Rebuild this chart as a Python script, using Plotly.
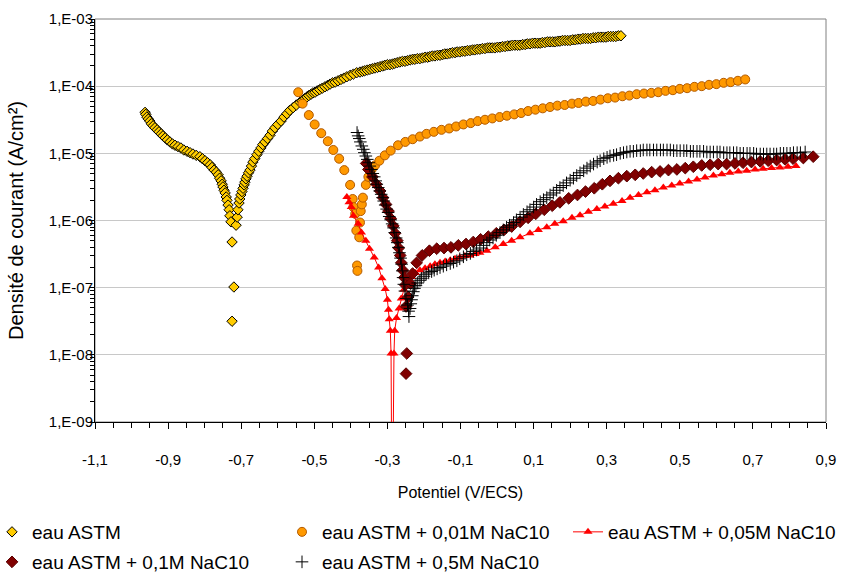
import numpy as np
import plotly.graph_objects as go

# ---------------- data ----------------
# Potential (V/ECS) and log10 of current density (A/cm²)
astm_v = [-0.963, -0.961, -0.958, -0.954, -0.950, -0.946, -0.941, -0.936, -0.930, -0.925,
          -0.919, -0.914, -0.908, -0.902, -0.895, -0.888, -0.881, -0.873, -0.865, -0.857,
          -0.848, -0.840, -0.832, -0.823, -0.813, -0.806, -0.799, -0.792, -0.785, -0.780,
          -0.774, -0.768, -0.763, -0.759, -0.755, -0.752, -0.750, -0.747, -0.744, -0.741,
          -0.739, -0.736, -0.733, -0.731, -0.728, -0.725, -0.720, -0.725,
          -0.714, -0.711, -0.709, -0.706, -0.704, -0.701, -0.698, -0.695, -0.692, -0.690,
          -0.687, -0.684, -0.680, -0.676, -0.672, -0.668, -0.663, -0.657, -0.652, -0.646,
          -0.641, -0.635, -0.628, -0.621, -0.615, -0.608, -0.600, -0.591, -0.583, -0.575,
          -0.567, -0.558, -0.549, -0.539, -0.534, -0.529, -0.525, -0.520, -0.515, -0.509,
          -0.504, -0.498, -0.492, -0.485, -0.478, -0.471, -0.464, -0.457, -0.450, -0.443,
          -0.435, -0.427, -0.419, -0.411, -0.402, -0.393, -0.384, -0.375, -0.368, -0.362,
          -0.355, -0.348, -0.341, -0.334, -0.327, -0.320, -0.313, -0.307, -0.300, -0.293,
          -0.286, -0.280, -0.273, -0.266, -0.259, -0.252, -0.245, -0.238, -0.231, -0.225,
          -0.218, -0.211, -0.204, -0.197, -0.190, -0.184, -0.177, -0.170, -0.163, -0.156,
          -0.149, -0.143, -0.136, -0.129, -0.122, -0.115, -0.109, -0.102, -0.095, -0.088,
          -0.081, -0.074, -0.067, -0.061, -0.054, -0.047, -0.040, -0.033, -0.026, -0.020,
          -0.013, -0.006, 0.001, 0.008, 0.015, 0.022, 0.029, 0.036, 0.042, 0.049,
          0.056, 0.063, 0.070, 0.077, 0.083, 0.090, 0.097, 0.104, 0.111, 0.118,
          0.124, 0.131, 0.138, 0.145, 0.152, 0.159, 0.166, 0.172, 0.179, 0.186,
          0.193, 0.200, 0.207, 0.214, 0.221, 0.228, 0.235, 0.242, 0.249, 0.256,
          0.263, 0.270, 0.277, 0.284, 0.291, 0.298, 0.304, 0.311, 0.318, 0.325,
          0.332, 0.339]
astm_logj = [-4.39, -4.42, -4.46, -4.49, -4.52, -4.56, -4.59, -4.62, -4.65, -4.68,
             -4.71, -4.74, -4.77, -4.80, -4.83, -4.86, -4.88, -4.90, -4.92, -4.95,
             -4.97, -4.99, -5.01, -5.03, -5.05, -5.08, -5.11, -5.14, -5.17, -5.21,
             -5.25, -5.28, -5.32, -5.37, -5.41, -5.46, -5.50, -5.55, -5.59, -5.65,
             -5.70, -5.77, -5.84, -5.93, -6.02, -6.32, -6.99, -7.50,
             -6.07, -5.95, -5.84, -5.74, -5.68, -5.62, -5.57, -5.52, -5.47, -5.43,
             -5.38, -5.34, -5.29, -5.25, -5.19, -5.13, -5.08, -5.02, -4.97, -4.92,
             -4.87, -4.83, -4.78, -4.73, -4.67, -4.62, -4.57, -4.52, -4.46, -4.41,
             -4.36, -4.32, -4.28, -4.24, -4.22, -4.20, -4.18, -4.16, -4.14, -4.12,
             -4.10, -4.09, -4.07, -4.05, -4.03, -4.01, -3.99, -3.97, -3.95, -3.94,
             -3.92, -3.90, -3.88, -3.86, -3.84, -3.82, -3.80, -3.79, -3.78, -3.77,
             -3.76, -3.75, -3.74, -3.73, -3.72, -3.71, -3.70, -3.69, -3.68, -3.68,
             -3.67, -3.66, -3.65, -3.64, -3.63, -3.63, -3.62, -3.61, -3.60, -3.60,
             -3.59, -3.59, -3.58, -3.57, -3.57, -3.56, -3.55, -3.55, -3.54, -3.54,
             -3.53, -3.52, -3.52, -3.51, -3.50, -3.50, -3.49, -3.49, -3.48, -3.48,
             -3.47, -3.47, -3.46, -3.46, -3.45, -3.45, -3.44, -3.44, -3.43, -3.43,
             -3.43, -3.43, -3.42, -3.42, -3.41, -3.41, -3.40, -3.40, -3.39, -3.39,
             -3.39, -3.39, -3.38, -3.38, -3.37, -3.37, -3.36, -3.36, -3.36, -3.36,
             -3.35, -3.35, -3.34, -3.34, -3.34, -3.34, -3.33, -3.33, -3.32, -3.32,
             -3.32, -3.32, -3.31, -3.31, -3.30, -3.30, -3.29, -3.29, -3.29, -3.29,
             -3.28, -3.28, -3.27, -3.27, -3.27, -3.27, -3.26, -3.26, -3.26, -3.26,
             -3.25, -3.25]

m001_v = [-0.544, -0.532, -0.515, -0.499, -0.481, -0.463, -0.448, -0.432, -0.418, -0.402,
          -0.395, -0.393, -0.388, -0.385, -0.383, -0.382, -0.377, -0.375, -0.373, -0.370,
          -0.367, -0.359, -0.352, -0.343, -0.334, -0.322, -0.307, -0.291, -0.271, -0.251,
          -0.231, -0.211, -0.193, -0.173, -0.152, -0.131, -0.112, -0.092, -0.072, -0.053,
          -0.033, -0.013, 0.007, 0.027, 0.047, 0.066, 0.085, 0.105, 0.125, 0.145,
          0.165, 0.185, 0.205, 0.223, 0.243, 0.263, 0.283, 0.303, 0.323, 0.343,
          0.362, 0.382, 0.402, 0.422, 0.441, 0.461, 0.481, 0.500, 0.520, 0.540,
          0.560, 0.580, 0.600, 0.620, 0.639, 0.659, 0.679]
m001_logj = [-4.09, -4.26, -4.43, -4.57, -4.70, -4.82, -4.95, -5.08, -5.25, -5.47,
             -5.68, -5.80, -5.90, -6.15, -6.67, -6.75, -6.25, -6.03, -5.86, -5.76,
             -5.66, -5.47, -5.35, -5.24, -5.18, -5.11, -5.03, -4.96, -4.88, -4.83,
             -4.79, -4.75, -4.71, -4.68, -4.65, -4.63, -4.60, -4.57, -4.55, -4.52,
             -4.50, -4.48, -4.46, -4.44, -4.42, -4.40, -4.37, -4.35, -4.33, -4.31,
             -4.29, -4.28, -4.26, -4.25, -4.23, -4.22, -4.20, -4.18, -4.17, -4.15,
             -4.14, -4.12, -4.11, -4.10, -4.09, -4.07, -4.06, -4.04, -4.03, -4.01,
             -4.00, -3.98, -3.97, -3.95, -3.94, -3.92, -3.90]

m005_v = [-0.411, -0.405, -0.399, -0.393, -0.380, -0.371, -0.359, -0.349, -0.336, -0.324,
          -0.315, -0.306, -0.300, -0.297, -0.295, -0.292, -0.290, -0.287, -0.282, -0.280,
          -0.275, -0.268, -0.262, -0.255, -0.244, -0.234, -0.223, -0.211, -0.197, -0.183,
          -0.170, -0.156, -0.142, -0.128, -0.115, -0.102, -0.088, -0.074, -0.060, -0.047,
          -0.028, -0.005, 0.017, 0.040, 0.063, 0.090, 0.113, 0.136, 0.158, 0.181,
          0.205, 0.227, 0.250, 0.273, 0.295, 0.318, 0.342, 0.364, 0.387, 0.410,
          0.432, 0.455, 0.478, 0.500, 0.524, 0.547, 0.569, 0.592, 0.615, 0.637,
          0.660, 0.683, 0.706, 0.728, 0.751, 0.774, 0.796, 0.818]
m005_logj = [-5.65, -5.73, -5.80, -5.93, -6.05, -6.18, -6.30, -6.42, -6.55, -6.70,
             -6.86, -7.02, -7.18, -7.33, -7.47, -7.64, -7.98, -11.0, -7.98, -7.64,
             -7.45, -7.31, -7.16, -7.03, -6.93, -6.84, -6.78, -6.74, -6.71, -6.68,
             -6.65, -6.63, -6.61, -6.59, -6.57, -6.55, -6.53, -6.52, -6.50, -6.48,
             -6.45, -6.40, -6.35, -6.30, -6.25, -6.19, -6.14, -6.10, -6.05, -6.01,
             -5.96, -5.92, -5.87, -5.83, -5.79, -5.75, -5.71, -5.66, -5.62, -5.58,
             -5.55, -5.51, -5.48, -5.45, -5.42, -5.39, -5.36, -5.33, -5.31, -5.29,
             -5.27, -5.26, -5.24, -5.23, -5.22, -5.21, -5.20, -5.19]

m01_v = [-0.358, -0.352, -0.341, -0.330, -0.320, -0.312, -0.304, -0.297, -0.291, -0.284,
         -0.279, -0.273, -0.269, -0.265, -0.262, -0.258, -0.254, -0.251, -0.249, -0.247,
         -0.249, -0.243, -0.237, -0.231, -0.220, -0.205, -0.185, -0.165, -0.145, -0.126,
         -0.106, -0.085, -0.065, -0.045, -0.024, -0.002, 0.019, 0.040, 0.063, 0.085,
         0.106, 0.129, 0.151, 0.172, 0.196, 0.220, 0.242, 0.266, 0.288, 0.309,
         0.332, 0.355, 0.378, 0.400, 0.423, 0.446, 0.469, 0.492, 0.515, 0.537,
         0.560, 0.583, 0.605, 0.628, 0.651, 0.673, 0.696, 0.720, 0.742, 0.765,
         0.788, 0.810, 0.838, 0.865]
m01_logj = [-5.15, -5.24, -5.35, -5.46, -5.56, -5.66, -5.76, -5.86, -5.97, -6.08,
            -6.19, -6.30, -6.41, -6.52, -6.63, -6.74, -6.85, -6.96, -7.28, -7.98,
            -8.28, -7.14, -6.94, -6.79, -6.63, -6.52, -6.45, -6.42, -6.41, -6.40,
            -6.37, -6.35, -6.32, -6.28, -6.24, -6.19, -6.14, -6.09, -6.02, -5.96,
            -5.90, -5.84, -5.78, -5.73, -5.67, -5.62, -5.57, -5.52, -5.46, -5.41,
            -5.37, -5.34, -5.32, -5.30, -5.28, -5.27, -5.25, -5.24, -5.22, -5.20,
            -5.18, -5.17, -5.16, -5.16, -5.15, -5.14, -5.13, -5.12, -5.11, -5.10,
            -5.09, -5.08, -5.07, -5.05]

m05_v = [-0.383, -0.380, -0.377, -0.374, -0.370, -0.366, -0.363, -0.359, -0.355, -0.351,
         -0.348, -0.344, -0.340, -0.336, -0.332, -0.329, -0.325, -0.321, -0.317, -0.313,
         -0.310, -0.306, -0.302, -0.298, -0.295, -0.291, -0.287, -0.283, -0.280, -0.276,
         -0.273, -0.270, -0.267, -0.264, -0.261, -0.259, -0.257, -0.255, -0.252, -0.249,
         -0.245, -0.242, -0.241, -0.238, -0.236, -0.234, -0.232, -0.229, -0.226, -0.222,
         -0.217, -0.211, -0.207, -0.200, -0.194, -0.187, -0.179, -0.172, -0.164, -0.156,
         -0.147, -0.138, -0.128, -0.119, -0.110, -0.102, -0.092, -0.083, -0.073, -0.065,
         -0.056, -0.047, -0.037, -0.028, -0.020, -0.011, -0.002, 0.008, 0.017, 0.026,
         0.034, 0.045, 0.053, 0.063, 0.072, 0.082, 0.090, 0.100, 0.108, 0.118,
         0.127, 0.136, 0.145, 0.154, 0.163, 0.172, 0.181, 0.190, 0.200, 0.209,
         0.218, 0.227, 0.237, 0.246, 0.255, 0.264, 0.274, 0.282, 0.292, 0.301,
         0.309, 0.319, 0.327, 0.337, 0.346, 0.355, 0.364, 0.373, 0.382, 0.392,
         0.400, 0.410, 0.418, 0.428, 0.437, 0.447, 0.455, 0.465, 0.474, 0.483,
         0.492, 0.501, 0.511, 0.519, 0.529, 0.537, 0.547, 0.555, 0.565, 0.574,
         0.583, 0.592, 0.602, 0.610, 0.620, 0.629, 0.637, 0.647, 0.656, 0.665,
         0.674, 0.684, 0.692, 0.702, 0.710, 0.720, 0.729, 0.738, 0.747, 0.757,
         0.765, 0.775, 0.784, 0.793, 0.802, 0.811, 0.821, 0.830, 0.843]
m05_logj = [-4.69, -4.74, -4.78, -4.83, -4.89, -4.94, -4.99, -5.04, -5.09, -5.14,
            -5.19, -5.24, -5.30, -5.35, -5.41, -5.46, -5.51, -5.56, -5.61, -5.66,
            -5.71, -5.77, -5.83, -5.88, -5.94, -5.99, -6.05, -6.11, -6.18, -6.26,
            -6.33, -6.40, -6.48, -6.56, -6.65, -6.75, -6.85, -6.95, -7.05, -7.16,
            -7.26, -7.35, -7.43, -7.31, -7.24, -7.18, -7.12, -7.06, -7.01, -6.97,
            -6.93, -6.89, -6.86, -6.83, -6.80, -6.78, -6.76, -6.74, -6.72, -6.70,
            -6.68, -6.66, -6.64, -6.62, -6.60, -6.57, -6.54, -6.51, -6.49, -6.46,
            -6.44, -6.41, -6.37, -6.33, -6.29, -6.26, -6.22, -6.18, -6.14, -6.10,
            -6.07, -6.03, -5.99, -5.95, -5.91, -5.87, -5.84, -5.80, -5.76, -5.72,
            -5.69, -5.66, -5.62, -5.59, -5.55, -5.51, -5.48, -5.44, -5.40, -5.37,
            -5.33, -5.29, -5.26, -5.22, -5.19, -5.16, -5.13, -5.11, -5.08, -5.06,
            -5.04, -5.03, -5.02, -5.00, -4.99, -4.98, -4.97, -4.97, -4.96, -4.96,
            -4.95, -4.95, -4.95, -4.95, -4.95, -4.95, -4.95, -4.95, -4.95, -4.96,
            -4.96, -4.96, -4.96, -4.96, -4.97, -4.97, -4.97, -4.97, -4.97, -4.98,
            -4.98, -4.98, -4.98, -4.98, -4.99, -4.99, -4.99, -4.99, -4.99, -5.00,
            -5.00, -5.00, -5.00, -5.00, -5.01, -5.01, -5.01, -5.01, -5.01, -5.01,
            -5.01, -5.00, -5.00, -5.00, -5.00, -4.99, -4.99, -4.99, -4.98]

series_names = ["eau ASTM", "eau ASTM + 0,01M NaC10", "eau ASTM + 0,05M NaC10",
                "eau ASTM + 0,1M NaC10", "eau ASTM + 0,5M NaC10"]

x_tickvals = [-1.1, -0.9, -0.7, -0.5, -0.3, -0.1, 0.1, 0.3, 0.5, 0.7, 0.9]
x_ticktext = ["-1,1", "-0,9", "-0,7", "-0,5", "-0,3", "-0,1", "0,1", "0,3", "0,5", "0,7", "0,9"]
y_tickvals = [1e-9, 1e-8, 1e-7, 1e-6, 1e-5, 1e-4, 1e-3]
y_ticktext = ["1,E-09", "1,E-08", "1,E-07", "1,E-06", "1,E-05", "1,E-04", "1,E-03"]

# ---------------- figure ----------------
FONT = "Liberation Sans, Arial, sans-serif"
W, H = 844, 576
L, R, T, B = 95, 18, 19, 154
PW = W - L - R


def j(logs):
    return np.power(10.0, np.array(logs))


def paper_x(px):
    return (px - L) / PW


fig = go.Figure()
fig.add_trace(go.Scatter(
    x=astm_v, y=j(astm_logj), mode="markers", name=series_names[0], legend="legend",
    marker=dict(symbol="diamond", size=8, color="#FFCC00", line=dict(color="#000000", width=1))))
fig.add_trace(go.Scatter(
    x=m001_v, y=j(m001_logj), mode="markers", name=series_names[1], legend="legend2",
    marker=dict(symbol="circle", size=9, color="#FF9900", line=dict(color="#B35A00", width=1))))
fig.add_trace(go.Scatter(
    x=m005_v, y=j(m005_logj), mode="lines+markers", name=series_names[2], legend="legend3",
    line=dict(color="#FF0000", width=1),
    marker=dict(symbol="triangle-up", size=8, color="#FF0000", line=dict(color="#FF0000", width=0))))
fig.add_trace(go.Scatter(
    x=m01_v, y=j(m01_logj), mode="markers", name=series_names[3], legend="legend4",
    marker=dict(symbol="diamond", size=9, color="#800000", line=dict(color="#5A0000", width=1))))
fig.add_trace(go.Scatter(
    x=m05_v, y=j(m05_logj), mode="markers", name=series_names[4], legend="legend5",
    marker=dict(symbol="cross-thin", size=9, color="#000000", line=dict(color="#000000", width=1))))

minor_y = [k * 10.0 ** e for e in range(-9, -3) for k in range(2, 10)]
minor_x = [round(-1.1 + 0.05 * i, 3) for i in range(41)]

legend_font = dict(family=FONT, size=19, color="#000000")


def legend_at(px, py):
    return dict(xref="paper", yref="container", x=paper_x(px), y=1 - py / H,
                xanchor="left", yanchor="middle", orientation="h",
                font=legend_font, bgcolor="rgba(0,0,0,0)", borderwidth=0,
                itemsizing="trace")


fig.update_layout(
    width=W, height=H,
    margin=dict(l=L, r=R, t=T, b=B, autoexpand=False),
    paper_bgcolor="white", plot_bgcolor="white",
    font=dict(family=FONT, size=15, color="#000000"),
    showlegend=True,
    legend=legend_at(-8, 532),
    legend2=legend_at(282, 532),
    legend3=legend_at(568, 532),
    legend4=legend_at(-8, 562),
    legend5=legend_at(282, 562),
    shapes=[dict(type="rect", xref="paper", yref="paper", x0=0, x1=1, y0=0, y1=1,
                 line=dict(color="#808080", width=1), layer="below")],
)
fig.update_xaxes(
    range=[-1.1, 0.9], tickmode="array", tickvals=x_tickvals, ticktext=x_ticktext,
    showgrid=False, zeroline=False, showline=True, linecolor="#000000", linewidth=1,
    ticks="outside", ticklen=6, tickcolor="#000000", tickwidth=1,
    ticklabelstandoff=18,
    minor=dict(tickmode="array", tickvals=minor_x, ticks="outside", ticklen=5,
               tickcolor="#000000", tickwidth=1, showgrid=False),
    tickfont=dict(size=15),
    title=dict(text="Potentiel (V/ECS)", font=dict(size=16), standoff=19),
)
fig.update_yaxes(
    type="log", range=[-9, -3], tickmode="array", tickvals=y_tickvals, ticktext=y_ticktext,
    showgrid=True, gridcolor="#C8C8C8", gridwidth=1, zeroline=False,
    showline=True, linecolor="#000000", linewidth=1,
    ticks="outside", ticklen=5, tickcolor="#000000", tickwidth=1,
    ticklabelstandoff=-7,
    minor=dict(tickmode="array", tickvals=minor_y, ticks="outside", ticklen=4,
               tickcolor="#000000", tickwidth=1, showgrid=False),
    tickfont=dict(size=15),
    title=dict(text="Densité de courant (A/cm²)", font=dict(size=20), standoff=19),
)

fig.write_html("out.html", config={"displayModeBar": False},
               post_script="document.body.style.margin='0px';document.body.style.overflow='hidden';")
